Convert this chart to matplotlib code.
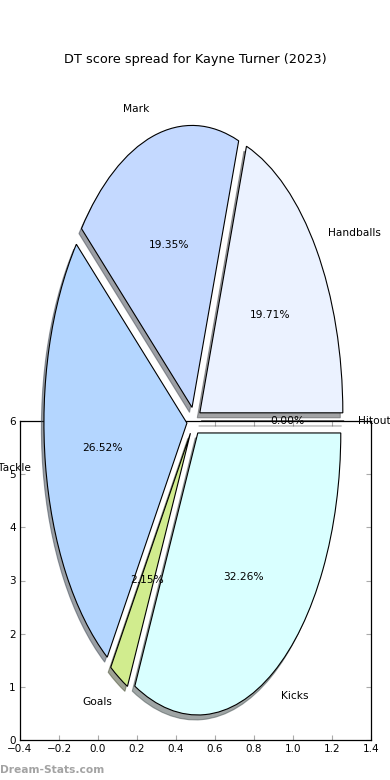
import matplotlib
matplotlib.use("Agg")
import matplotlib.pyplot as plt

labels = ["Handballs", "Mark", "Tackle", "Goals", "Kicks", "Hitout"]
points = [110, 108, 148, 12, 180, 0]
colors = ["#ebf2ff", "#c4d9ff", "#b4d6ff", "#d1ec8e", "#d9ffff", "#ffffff"]
explode = [0.05] * len(labels)

xticks = [-0.4, -0.2, 0.0, 0.2, 0.4, 0.6, 0.8, 1.0, 1.2, 1.4]
yticks = [0, 1, 2, 3, 4, 5, 6]

W, H = 390, 780
fig = plt.figure(figsize=(W / 100, H / 100), dpi=100)

# axes left behind from the original plot
ax = fig.add_axes([20 / W, 40 / H, 351 / W, 381 / H - 62 / H])
ax.set_xlim(-0.4, 1.4)
ax.set_ylim(0, 6)
ax.set_xticks(xticks)
ax.set_yticks(yticks)
ax.tick_params(direction="in", top=True, right=True, length=3.5,
               color="#aaaaaa", labelsize=7.5, pad=3)
for s in ax.spines.values():
    s.set_linewidth(0.9)

# pie in its own (stretched) axes on top
cx, cy = 194, H - 421
rh, rv = 143.0, 282.0
pax = fig.add_axes([0, 0, 1, 1])
pax.patch.set_alpha(0)
wedges, texts, autotexts = pax.pie(
    points, labels=labels, colors=colors, explode=explode,
    autopct="%1.2f%%", startangle=0,
    shadow={"ox": -0.0127, "oy": -0.0127},
    wedgeprops={"edgecolor": "black", "linewidth": 0.8},
    textprops={"fontsize": 7.7},
)
pax.set_aspect("auto")
pax.set_xlim(-cx / rh, (W - cx) / rh)
pax.set_ylim(-cy / rv, (H - cy) / rv)
pax.axis("off")

fig.text(0.5, 1 - 60 / H, "DT score spread for Kayne Turner (2023)",
         ha="center", va="center", fontsize=9.25)
fig.text(0.0, 1 - 770 / H, "Dream-Stats.com", ha="left", va="center",
         fontsize=7.7, fontweight="bold", color="#a3a3a3")

fig.savefig("out.png", dpi=100)
